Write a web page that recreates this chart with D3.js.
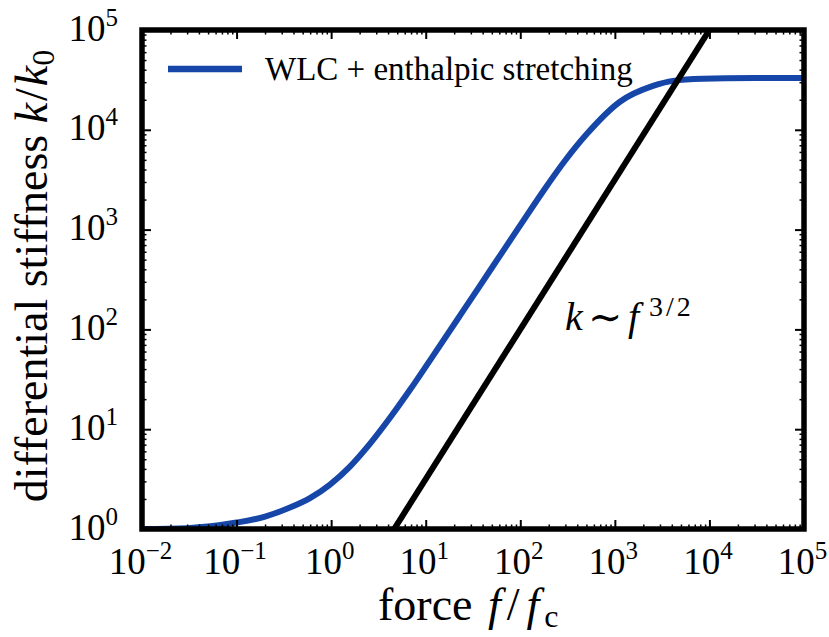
<!DOCTYPE html>
<html>
<head>
<meta charset="utf-8">
<script src="https://cdn.jsdelivr.net/npm/d3@7"></script>
<style>
  body { margin: 0; background: #fff; }
  svg { display: block; }
  svg text { font-family: "Liberation Serif", "Times New Roman", Times, "DejaVu Serif", serif; }
</style>
</head>
<body>
<svg width="829" height="637"></svg>
<script>
/****** DATA ******/

// WLC + enthalpic stretching curve, force f/fc vs stiffness k/k0
var wlcForce = [0.01, 0.03, 0.1, 0.2, 0.367, 0.597, 0.973, 1.58, 2.58, 4.19, 6.82, 11.1,
                23.1, 47.9, 99.3, 182, 302, 507, 1132, 2529, 4121, 8551, 30200, 100000];
var wlcStiffness = [1.0, 1.02, 1.16, 1.33, 1.64, 2.04, 2.79, 4.22, 7.16, 13.0, 24.8, 49.0,
                    138, 389, 1096, 2570, 5010, 9120, 19100, 27500, 30900, 32400, 33000, 33100];

// Power law guide k ~ f^(3/2)
var powerForce = [4.64, 10000];
var powerStiffness = [1, 100000];

// Tick labels
var xTickValues = [1e-2, 1e-1, 1e0, 1e1, 1e2, 1e3, 1e4, 1e5];
var xTickExponents = ["\u22122", "\u22121", "0", "1", "2", "3", "4", "5"];
var yTickValues = [1e0, 1e1, 1e2, 1e3, 1e4, 1e5];
var yTickExponents = ["0", "1", "2", "3", "4", "5"];

var legendLabel = "WLC + enthalpic stretching";
var blue = "#1546a8";
var serif = "Liberation Serif, Times New Roman, Times, DejaVu Serif, serif";

/****** SETUP ******/

var svg = d3.select("svg")
        .attr("font-family", serif),
    margin = {top: 30, right: 25, bottom: 108, left: 142},
    width = +svg.attr("width") - margin.left - margin.right,
    height = +svg.attr("height") - margin.top - margin.bottom;

var x = d3.scaleLog().domain([1e-2, 1e5]).range([0, width]);
var y = d3.scaleLog().domain([1e0, 1e5]).range([height, 0]);

var chart = svg.append("g")
    .attr("transform", "translate(" + margin.left + "," + margin.top + ")");

svg.append("defs").append("clipPath")
    .attr("id", "clip")
    .append("rect")
    .attr("width", width)
    .attr("height", height);

// minor ticks 2..9 in every decade
function minorTicks(decades) {
    var out = [];
    decades.slice(0, -1).forEach(function(d) {
        for (var m = 2; m <= 9; m++) out.push(d * m);
    });
    return out;
}

/****** LINES ******/

var line = d3.line()
    .x(function(d) { return x(d[0]); })
    .y(function(d) { return y(d[1]); })
    .curve(d3.curveMonotoneX);

chart.append("path")
    .datum(d3.zip(wlcForce, wlcStiffness))
    .attr("clip-path", "url(#clip)")
    .attr("fill", "none")
    .attr("stroke", blue)
    .attr("stroke-width", 6)
    .attr("d", line);

chart.append("path")
    .datum(d3.zip(powerForce, powerStiffness))
    .attr("clip-path", "url(#clip)")
    .attr("fill", "none")
    .attr("stroke", "#000")
    .attr("stroke-width", 6)
    .attr("d", line);

/****** AXES ******/

function drawTicks(axisFn, scale, values, size, sw, transform) {
    var g = chart.append("g")
        .attr("transform", transform)
        .call(axisFn(scale).tickValues(values).tickSize(size).tickFormat(""));
    g.attr("font-family", serif).attr("font-size", null);
    g.select(".domain").remove();
    g.selectAll(".tick line").attr("stroke", "#000").attr("stroke-width", sw);
    return g;
}

var xMinor = minorTicks(xTickValues), yMinor = minorTicks(yTickValues);

var xAxisG = drawTicks(d3.axisBottom, x, xTickValues, -9, 2, "translate(0," + height + ")");
drawTicks(d3.axisBottom, x, xMinor, -4.5, 1.5, "translate(0," + height + ")");
drawTicks(d3.axisTop, x, xTickValues, -9, 2, "translate(0,0)");
drawTicks(d3.axisTop, x, xMinor, -4.5, 1.5, "translate(0,0)");

var yAxisG = drawTicks(d3.axisLeft, y, yTickValues, -9, 2, "translate(0,0)");
drawTicks(d3.axisLeft, y, yMinor, -4.5, 1.5, "translate(0,0)");
drawTicks(d3.axisRight, y, yTickValues, -9, 2, "translate(" + width + ",0)");
drawTicks(d3.axisRight, y, yMinor, -4.5, 1.5, "translate(" + width + ",0)");

// power-of-ten labels with superscripts
function powerLabels(g, exps, xPos, yPos) {
    g.selectAll(".tick text").each(function(d, i) {
        var t = d3.select(this)
            .text(null)
            .attr("x", xPos)
            .attr("y", yPos)
            .attr("dy", null)
            .attr("fill", "#000")
            .attr("font-family", serif)
            .attr("font-size", 37);
        t.append("tspan").text("10");
        t.append("tspan").attr("dy", -15).attr("font-size", 25).text(exps[i]);
    });
}
powerLabels(xAxisG, xTickExponents, -2, 45);
powerLabels(yAxisG, yTickExponents, -24, 10);

// frame on top
chart.append("rect")
    .attr("width", width)
    .attr("height", height)
    .attr("fill", "none")
    .attr("stroke", "#000")
    .attr("stroke-width", 5.5);

/****** TITLES ******/

var xTitle = svg.append("text")
    .attr("x", 378)
    .attr("y", 620)
    .attr("font-family", serif)
    .attr("font-size", 46);
xTitle.append("tspan").text("force ");
xTitle.append("tspan").attr("dx", 4).attr("font-style", "italic").text("f");
xTitle.append("tspan").attr("dx", 6).text("/");
xTitle.append("tspan").attr("dx", 7).attr("font-style", "italic").text("f");
xTitle.append("tspan").attr("dx", 5).attr("dy", 7).attr("font-size", 32).text("c");

var yTitle = svg.append("text")
    .attr("transform", "translate(47,276)rotate(-90)")
    .attr("text-anchor", "middle")
    .attr("font-family", serif)
    .attr("font-size", 46);
yTitle.append("tspan").text("differential stiffness ");
yTitle.append("tspan").attr("font-style", "italic").text("k");
yTitle.append("tspan").attr("dx", 2).text("/");
yTitle.append("tspan").attr("dx", 2).attr("font-style", "italic").text("k");
yTitle.append("tspan").attr("dy", 7).attr("font-size", 32).text("0");

/****** LEGEND + ANNOTATION ******/

svg.append("line")
    .attr("x1", 168).attr("x2", 242)
    .attr("y1", 69).attr("y2", 69)
    .attr("stroke", blue)
    .attr("stroke-width", 6.5);

svg.append("text")
    .attr("x", 265)
    .attr("y", 80)
    .attr("font-family", serif)
    .attr("font-size", 33)
    .text(legendLabel);

var note = svg.append("text")
    .attr("y", 330)
    .attr("font-family", serif)
    .attr("font-size", 40);
note.append("tspan").attr("x", 565).attr("font-style", "italic").text("k");
note.append("tspan").attr("x", 588).attr("dy", 1).attr("font-size", 41).text("\u223C");
note.append("tspan").attr("x", 628).attr("dy", -1).attr("font-style", "italic").text("f");
note.append("tspan").attr("x", 649).attr("dy", -14).attr("font-size", 28)
    .attr("letter-spacing", 3).text("3/2");
</script>
</body>
</html>
